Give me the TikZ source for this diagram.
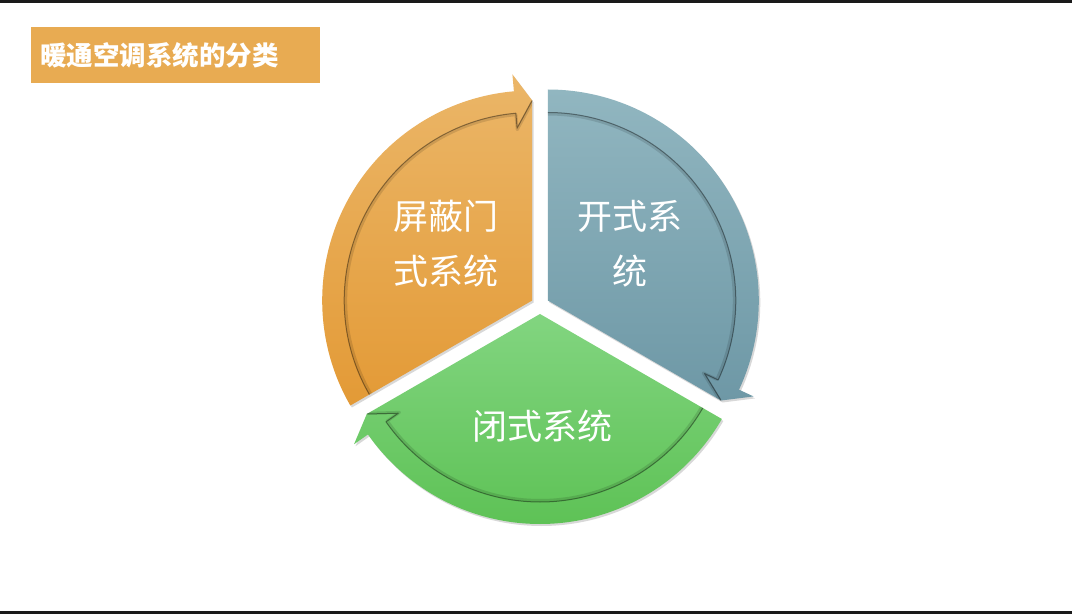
\documentclass[tikz,border=0pt]{standalone}
\usepackage{fontspec}
\newfontfamily\cjk{Noto Sans CJK SC}
\usetikzlibrary{shadows}
\definecolor{barblack}{RGB}{26,26,26}
\definecolor{titleorange}{RGB}{232,171,82}
\definecolor{orgtop}{RGB}{235,182,104}
\definecolor{orgbot}{RGB}{227,154,54}
\definecolor{blutop}{RGB}{145,182,192}
\definecolor{blubot}{RGB}{110,152,166}
\definecolor{grntop}{RGB}{130,213,128}
\definecolor{grnbot}{RGB}{94,194,86}
\tikzset{
  segment/.style={drop shadow={opacity=0.3, shadow xshift=1.5pt, shadow yshift=-2pt}},
  bandshade/.style={draw=black, draw opacity=0.12, line width=3pt, line join=round},
  bandline/.style={draw=black, draw opacity=0.4, line width=1pt, line join=round},
  lbl/.style={text=white, align=center, font=\cjk\fontsize{35}{55}\selectfont, inner sep=0pt},
  titlebox/.style={fill=titleorange, text=white, anchor=west, minimum height=56.6pt,
    text width=271pt, align=left, inner xsep=9pt, font=\cjk\bfseries\fontsize{26.5}{30}\selectfont}
}
\begin{document}
\begin{tikzpicture}[x=1pt,y=1pt]
\useasboundingbox (0,0) rectangle (1072,614);
\fill[white] (0,0) rectangle (1072,614);
\fill[barblack] (0,611) rectangle (1072,614);
\fill[barblack] (0,0) rectangle (1072,3.4);

\node[titlebox] (title) at (31,559) {暖通空调系统的分类};

% orange segment
\begin{scope}[shift={(532.2,313.5)}]
  \path[segment, top color=orgtop, bottom color=orgbot]
    (0,0) -- (210:210pt) arc[start angle=210, end angle=95, radius=210pt]
    -- (95:227pt) -- (90:200pt) -- cycle;
  \begin{scope}
    \clip (0,0) -- (210:210pt) arc[start angle=210, end angle=90, radius=210pt] -- cycle;
    \draw[bandshade] (210:186.5pt) arc[start angle=210, end angle=95, radius=186.5pt]
      -- (95:171.5pt) -- (90:198.5pt);
  \end{scope}
  \draw[bandline] (210:188pt) arc[start angle=210, end angle=95, radius=188pt]
    -- (95:173pt) -- (90:200pt);
\end{scope}

% blue segment
\begin{scope}[shift={(547.8,313.5)}]
  \path[segment, top color=blutop, bottom color=blubot]
    (0,0) -- (90:211pt) arc[start angle=90, end angle=-25, radius=211pt]
    -- (-25:227pt) -- (-30:200pt) -- cycle;
  \begin{scope}
    \clip (0,0) -- (90:211pt) arc[start angle=90, end angle=-30, radius=211pt] -- cycle;
    \draw[bandshade] (90:186.5pt) arc[start angle=90, end angle=-25, radius=186.5pt]
      -- (-25:171.5pt) -- (-30:198.5pt);
  \end{scope}
  \draw[bandline] (90:188pt) arc[start angle=90, end angle=-25, radius=188pt]
    -- (-25:173pt) -- (-30:200pt);
\end{scope}

% green segment
\begin{scope}[shift={(540,300)}]
  \path[segment, top color=grntop, bottom color=grnbot]
    (0,0) -- (-30:210pt) arc[start angle=-30, end angle=-145, radius=210pt]
    -- (-145:227pt) -- (-150:200pt) -- cycle;
  \begin{scope}
    \clip (0,0) -- (-30:210pt) arc[start angle=-30, end angle=-150, radius=210pt] -- cycle;
    \draw[bandshade] (-30:186.5pt) arc[start angle=-30, end angle=-145, radius=186.5pt]
      -- (-145:171.5pt) -- (-150:198.5pt);
  \end{scope}
  \draw[bandline] (-30:188pt) arc[start angle=-30, end angle=-145, radius=188pt]
    -- (-145:173pt) -- (-150:200pt);
\end{scope}

\node[lbl] (shield) at (446,370) {屏蔽门\\式系统};
\node[lbl] (open) at (630,370) {开式系\\统};
\node[lbl] (closed) at (542,187.5) {闭式系统};
\end{tikzpicture}
\end{document}
